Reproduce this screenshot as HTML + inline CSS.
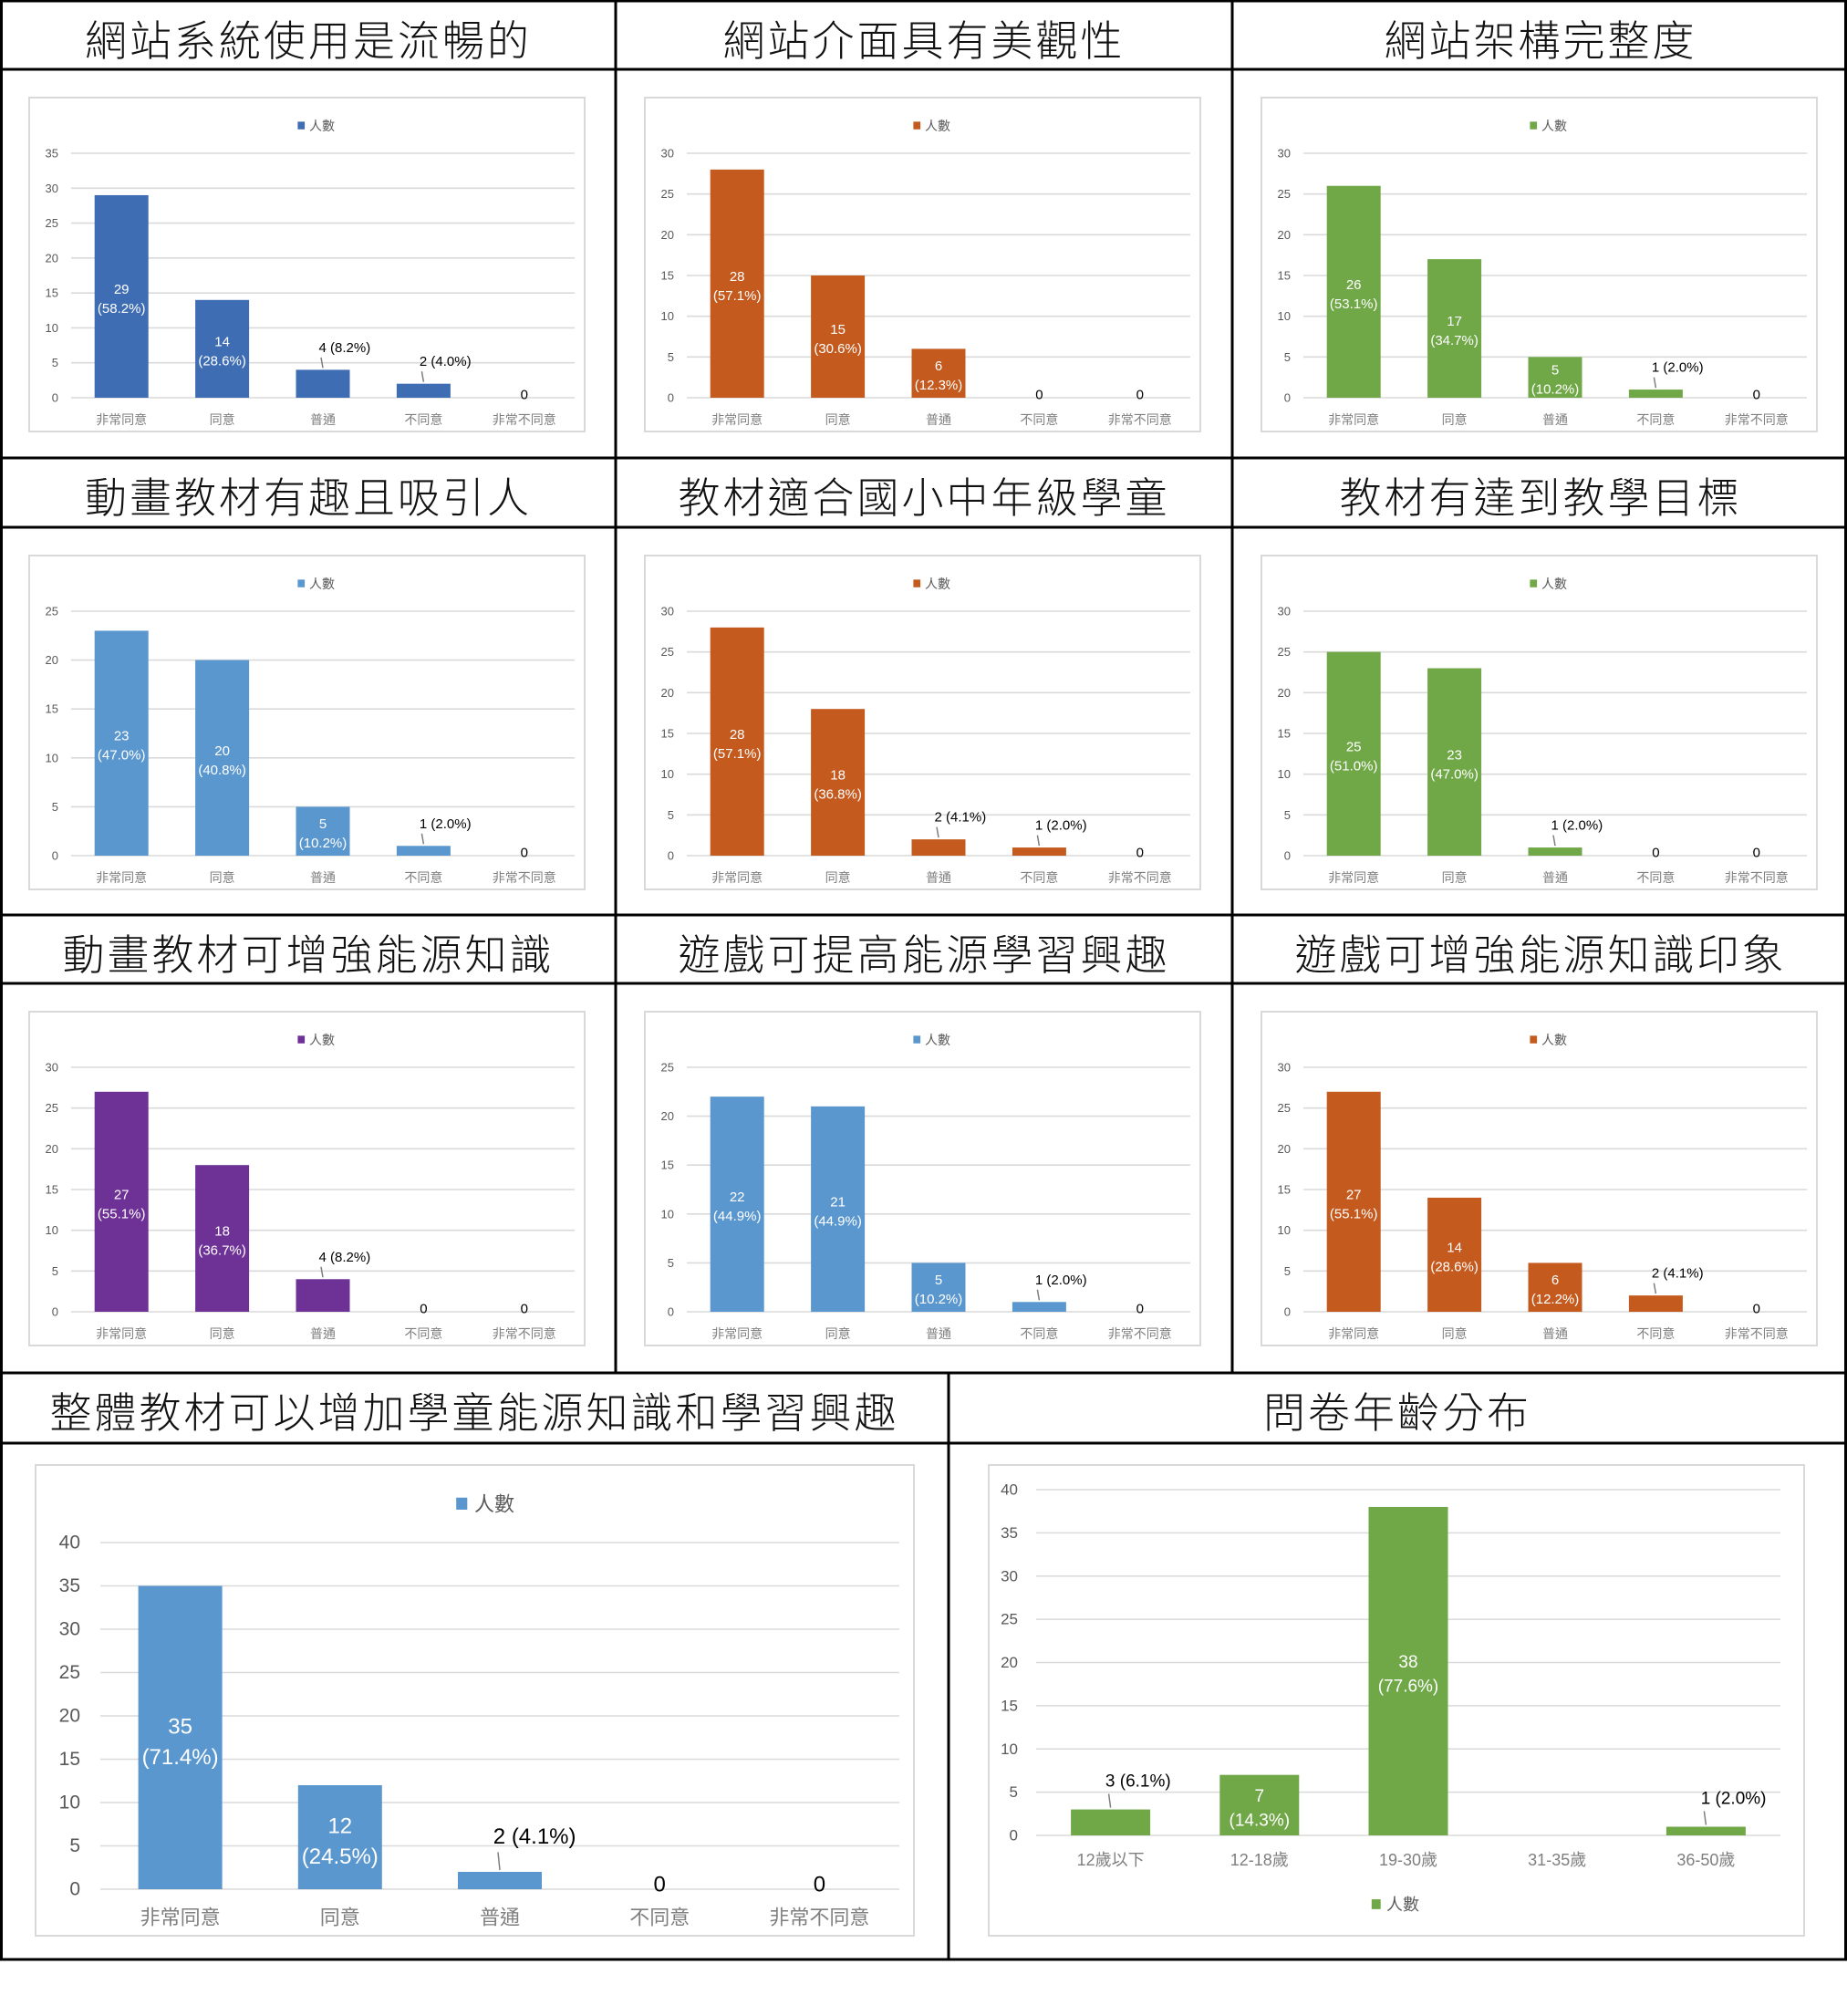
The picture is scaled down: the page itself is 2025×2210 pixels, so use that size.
<!DOCTYPE html>
<html><head><meta charset="utf-8">
<style>
html,body{margin:0;padding:0;background:#fff;}
svg{display:block;font-family:"Liberation Sans","Noto Sans CJK TC",sans-serif;}
</style></head>
<body>
<svg id="page" width="2025" height="2210" viewBox="0 0 2025 2210" xmlns="http://www.w3.org/2000/svg"></svg>
<script>
// ---- chart data (one set of small arrays per chart) ----
const likertCats = ["非常同意","同意","普通","不同意","非常不同意"];
const ageCats = ["12歲以下","12-18歲","19-30歲","31-35歲","36-50歲"];

const c1Title = "網站系統使用是流暢的";   const c1Vals = [29,14,4,2,0];  const c1Pct = ["58.2%","28.6%","8.2%","4.0%",""];  const c1Max = 35;
const c2Title = "網站介面具有美觀性";     const c2Vals = [28,15,6,0,0];  const c2Pct = ["57.1%","30.6%","12.3%","",""];    const c2Max = 30;
const c3Title = "網站架構完整度";         const c3Vals = [26,17,5,1,0];  const c3Pct = ["53.1%","34.7%","10.2%","2.0%",""]; const c3Max = 30;
const c4Title = "動畫教材有趣且吸引人";   const c4Vals = [23,20,5,1,0];  const c4Pct = ["47.0%","40.8%","10.2%","2.0%",""]; const c4Max = 25;
const c5Title = "教材適合國小中年級學童"; const c5Vals = [28,18,2,1,0];  const c5Pct = ["57.1%","36.8%","4.1%","2.0%",""];  const c5Max = 30;
const c6Title = "教材有達到教學目標";     const c6Vals = [25,23,1,0,0];  const c6Pct = ["51.0%","47.0%","2.0%","",""];     const c6Max = 30;
const c7Title = "動畫教材可增強能源知識"; const c7Vals = [27,18,4,0,0];  const c7Pct = ["55.1%","36.7%","8.2%","",""];     const c7Max = 30;
const c8Title = "遊戲可提高能源學習興趣"; const c8Vals = [22,21,5,1,0];  const c8Pct = ["44.9%","44.9%","10.2%","2.0%",""]; const c8Max = 25;
const c9Title = "遊戲可增強能源知識印象"; const c9Vals = [27,14,6,2,0];  const c9Pct = ["55.1%","28.6%","12.2%","4.1%",""]; const c9Max = 30;
const c10Title = "整體教材可以增加學童能源知識和學習興趣"; const c10Vals = [35,12,2,0,0]; const c10Pct = ["71.4%","24.5%","4.1%","",""]; const c10Max = 40;
const c11Title = "問卷年齡分布";      const c11Vals = [3,7,38,0,1];  const c11Pct = ["6.1%","14.3%","77.6%","","2.0%"]; const c11Max = 40;
const legendLabel = "人數";

const NS = "http://www.w3.org/2000/svg";
const svg = document.getElementById("page");
function el(tag, attrs, parent){
  const e = document.createElementNS(NS, tag);
  for (const k in attrs) e.setAttribute(k, attrs[k]);
  (parent||svg).appendChild(e);
  return e;
}
function txt(s, attrs, parent){ const t = el("text", attrs, parent); t.textContent = s; return t; }

// ---- table borders ----
const g0 = el("g", {});


const hLines = [1,76,502,578,1003,1078,1505,1582,2148];
hLines.forEach(y=>{ el("line",{x1:0,x2:2025,y1:y,y2:y,stroke:"#000","stroke-width":3},g0); });
el("line",{x1:1.5,x2:1.5,y1:0,y2:2148,stroke:"#000","stroke-width":3},g0);
el("line",{x1:2023.5,x2:2023.5,y1:0,y2:2148,stroke:"#000","stroke-width":3},g0);
el("line",{x1:675,x2:675,y1:0,y2:1505,stroke:"#000","stroke-width":3},g0);
el("line",{x1:1351,x2:1351,y1:0,y2:1505,stroke:"#000","stroke-width":3},g0);
el("line",{x1:1040,x2:1040,y1:1505,y2:2148,stroke:"#000","stroke-width":3},g0);

function title(s, cx, cy, name){
  const t = txt(s,{x:cx,y:cy,"text-anchor":"middle","dominant-baseline":"central","font-size":46,"letter-spacing":3,fill:"#111","font-weight":300});
  
  
}

// generic bar chart
function chart(o){
  const g = el("g",{});
  
  
  el("rect",{x:o.fx,y:o.fy,width:o.fw,height:o.fh,fill:"#fff",stroke:"#d9d9d9","stroke-width":2},g);
  const yS = v => o.y0 - (v/o.max)*(o.y0-o.yTop);
  const band = (o.x1-o.x0)/o.cats.length;
  const xC = i => o.x0 + band*(i+0.5);
  for (let v=0; v<=o.max; v+=5){
    el("line",{x1:o.x0,x2:o.x1,y1:yS(v),y2:yS(v),stroke:"#dadada","stroke-width":1.6},g);
    const t = txt(String(v),{x:o.x0-o.tickGap,y:yS(v),"text-anchor":"end","dominant-baseline":"central","font-size":o.tickFs,fill:"#595959"},g);
    
    
  }
  // legend
  const lg = el("g",{},g);
  
  
  el("rect",{x:o.lx-o.legFs*0.9,y:o.ly-o.legFs*0.33,width:o.legFs*0.55,height:o.legFs*0.6,fill:o.color},lg);
  txt(legendLabel,{x:o.lx,y:o.ly,"dominant-baseline":"central","font-size":o.legFs,fill:"#595959"},lg);
  o.vals.forEach((v,i)=>{
    const cx = xC(i);
    const b = el("rect",{x:cx-o.bw/2,y:yS(v),width:o.bw,height:o.y0-yS(v),fill:o.color},g);
    
    
    const cl = txt(o.cats[i],{x:cx,y:o.catY,"text-anchor":"middle","dominant-baseline":"central","font-size":o.catFs,fill:"#7f7f7f"},g);
    
    
    const p = o.pct[i];
    let lab;
    if (v >= 5){
      const my = (yS(v)+o.y0)/2 + o.dFs*0.3;
      lab = el("g",{},g);
      txt(String(v),{x:cx,y:my-o.dFs*0.8,"text-anchor":"middle","dominant-baseline":"central","font-size":o.dFs,fill:"#fff"},lab);
      txt("("+p+")",{x:cx,y:my+o.dFs*0.6,"text-anchor":"middle","dominant-baseline":"central","font-size":o.dFs,fill:"#fff"},lab);
    } else if (v > 0){
      lab = el("g",{},g);
      const ty = yS(v)-o.dFs*1.6;
      el("line",{x1:cx,y1:yS(v)-2,x2:cx-2,y2:ty+o.dFs*0.7,stroke:"#7f7f7f","stroke-width":1.5},lab);
      txt(v+" ("+p+")",{x:cx-o.dFs*0.3,y:ty,"dominant-baseline":"central","font-size":o.dFs,fill:"#000"},lab);
    } else if (o.showZero){
      lab = el("g",{},g);
      txt("0",{x:cx,y:o.y0-o.dFs*0.2,"text-anchor":"middle","dominant-baseline":"central","font-size":o.dFs,fill:"#000"},lab);
    }
    if (lab){
      
      
    }
  });
}

const small = [
  [c1Title,c1Vals,c1Pct,c1Max,"#3f6db4"],
  [c2Title,c2Vals,c2Pct,c2Max,"#c55a1f"],
  [c3Title,c3Vals,c3Pct,c3Max,"#70a848"],
  [c4Title,c4Vals,c4Pct,c4Max,"#5b97cf"],
  [c5Title,c5Vals,c5Pct,c5Max,"#c55a1f"],
  [c6Title,c6Vals,c6Pct,c6Max,"#70a848"],
  [c7Title,c7Vals,c7Pct,c7Max,"#6e3296"],
  [c8Title,c8Vals,c8Pct,c8Max,"#5b97cf"],
  [c9Title,c9Vals,c9Pct,c9Max,"#c55a1f"]
];
const colX = [0,675,1351];
small.forEach((c,k)=>{
  const r = Math.floor(k/3), col = k%3;
  const x = colX[col];
  const ty = [1,502,1003][r], cy = [76,578,1078][r];
  title(c[0], x+338, ty+44, "chart-title-"+(k+1));
  chart({name:"bar-chart-"+(k+1), cats:likertCats, vals:c[1], pct:c[2], max:c[3], color:c[4],
    fx:x+32, fy:cy+31, fw:609, fh:366,
    x0:x+78, x1:x+630, yTop:cy+92, y0:cy+360,
    bw:59, tickFs:13, tickGap:14, catFs:14, catY:cy+384, dFs:15, legFs:14,
    lx:x+339, ly:cy+62, showZero:true});
});

title(c10Title, 520, 1549, "chart-title-10");
chart({name:"bar-chart-overall", cats:likertCats, vals:c10Vals, pct:c10Pct, max:c10Max, color:"#5b97cf",
  fx:39, fy:1606, fw:963, fh:516,
  x0:110, x1:986, yTop:1691, y0:2071,
  bw:92, tickFs:21, tickGap:22, catFs:22, catY:2102, dFs:24, legFs:22,
  lx:520, ly:1649, showZero:true});

title(c11Title, 1532, 1549, "chart-title-age");
chart({name:"bar-chart-age", cats:ageCats, vals:c11Vals, pct:c11Pct, max:c11Max, color:"#70a848",
  fx:1084, fy:1606, fw:894, fh:516,
  x0:1136, x1:1952, yTop:1633, y0:2012,
  bw:87, tickFs:17, tickGap:20, catFs:18, catY:2039, dFs:19, legFs:18,
  lx:1520, ly:2088, showZero:false});
</script>
</body></html>
